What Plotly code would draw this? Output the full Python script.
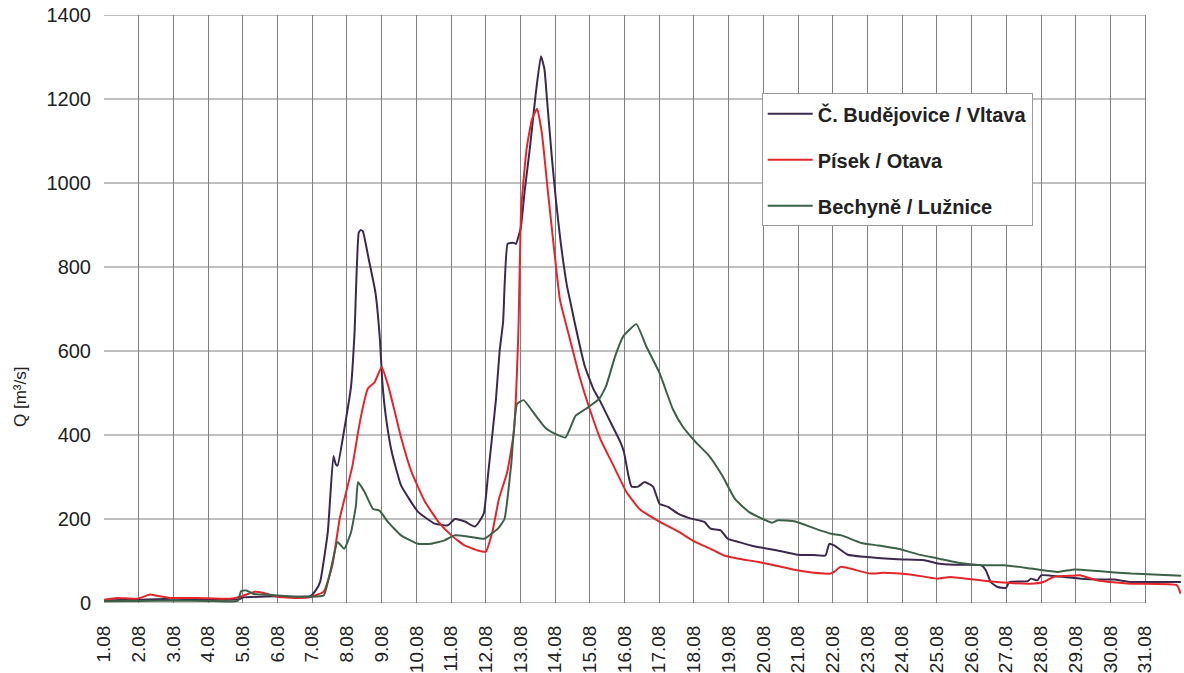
import plotly.graph_objects as go

# x tick labels (day of August)
date_labels = ["1.08", "2.08", "3.08", "4.08", "5.08", "6.08", "7.08", "8.08", "9.08", "10.08",
               "11.08", "12.08", "13.08", "14.08", "15.08", "16.08", "17.08", "18.08", "19.08", "20.08",
               "21.08", "22.08", "23.08", "24.08", "25.08", "26.08", "27.08", "28.08", "29.08", "30.08", "31.08"]
date_pos = list(range(1, 32))
y_ticks = [0, 200, 400, 600, 800, 1000, 1200, 1400]

# Č. Budějovice / Vltava
cb_day = [1.0, 1.5, 2.0, 2.5, 3.0, 3.5, 4.0, 4.5, 4.9, 5.0, 5.5, 6.0, 6.5, 6.94, 7.1, 7.23, 7.45, 7.61, 7.68,
          7.73, 7.91, 8.12, 8.22, 8.34, 8.40, 8.46, 8.63, 8.82, 8.95, 9.02, 9.12, 9.29, 9.56, 10.05, 10.53,
          10.91, 11.11, 11.40, 11.69, 11.86, 11.95, 12.07, 12.29, 12.40, 12.50, 12.63, 12.78, 12.87, 13.01,
          13.12, 13.27, 13.44, 13.59, 13.69, 13.77, 13.90, 14.03, 14.16, 14.34, 14.43, 14.57, 14.85, 15.1,
          15.3, 15.55, 15.88, 15.98, 16.11, 16.20, 16.39, 16.58, 16.82, 17.01, 17.25, 17.54, 17.92, 18.30,
          18.48, 18.77, 18.97, 19.26, 19.64, 19.93, 20.41, 20.98, 21.46, 21.79, 21.90, 22.04, 22.43, 22.91,
          23.87, 24.64, 25.02, 25.50, 26.27, 26.41, 26.55, 26.75, 26.99, 27.09, 27.62, 27.71, 27.90, 28.00,
          28.28, 28.67, 29.15, 29.63, 30.11, 30.59, 31.55, 32.03]
cb_q = [6, 7, 8, 9, 10, 9, 8, 8, 9, 13, 15, 16, 15, 16, 30, 51, 170, 350, 330,
        327, 407, 517, 645, 882, 888, 885, 818, 740, 628, 526, 445, 360, 280, 217, 189,
        185, 200, 194, 182, 200, 215, 308, 481, 600, 669, 855, 858, 855, 894,
        980, 1082, 1212, 1302, 1272, 1194, 1065, 953, 858, 755, 720, 665, 565, 510,
        480, 438, 383, 360, 304, 277, 277, 288, 277, 236, 229, 213, 201, 193,
        177, 173, 153, 146, 137, 132, 125, 115, 114, 113, 141, 137, 115, 110,
        104, 102, 94, 91, 90, 78, 50, 38, 36, 50, 52, 58, 54, 66,
        65, 62, 58, 56, 56, 50, 50, 50]

# Písek / Otava
pi_day = [1.0, 1.37, 1.95, 2.33, 2.53, 2.90, 3.68, 4.63, 4.92, 5.35, 5.61, 5.99, 6.56, 6.94, 7.33, 7.58,
          7.79, 7.98, 8.16, 8.32, 8.47, 8.60, 8.80, 9.00, 9.19, 9.38, 9.57, 9.86, 10.25, 10.63, 11.01,
          11.39, 11.77, 12.00, 12.19, 12.38, 12.62, 12.81, 12.94, 13.02, 13.18, 13.33, 13.48, 13.62, 13.79,
          13.97, 14.14, 14.42, 14.70, 14.99, 15.30, 15.68, 16.05, 16.43, 17.0, 17.55, 18.02, 18.48, 18.87,
          19.25, 19.83, 20.31, 20.98, 21.75, 21.93, 22.03, 22.22, 22.5, 23.08, 23.47, 24.23, 25.0, 25.39,
          26.25, 26.73, 27.69, 28.07, 28.36, 28.94, 29.13, 29.61, 30.58, 31.92, 32.02]
pi_q = [8, 12, 10, 20, 17, 12, 12, 10, 15, 27, 24, 15, 12, 14, 27, 90,
        200, 265, 327, 407, 470, 510, 526, 562, 517, 455, 391, 312, 241, 194, 161,
        137, 125, 122, 169, 248, 312, 407, 645, 937, 1083, 1151, 1177, 1117, 980,
        842, 721, 630, 540, 463, 391, 327, 265, 224, 194, 170, 146, 129, 113,
        106, 98, 90, 78, 70, 70, 74, 86, 82, 70, 72, 68, 58, 62,
        54, 50, 46, 50, 62, 65, 66, 54, 46, 42, 22]

# Bechyně / Lužnice
be_day = [1.0, 2.0, 3.0, 4.0, 4.85, 4.95, 5.1, 5.3, 5.6, 6.0, 6.5, 6.94, 7.33, 7.52, 7.73, 7.92, 8.12,
          8.26, 8.32, 8.51, 8.75, 8.94, 9.18, 9.56, 10.04, 10.42, 10.81, 11.10, 11.58, 11.96, 12.35,
          12.54, 12.73, 12.90, 13.09, 13.44, 13.73, 14.02, 14.30, 14.59, 14.88, 15.27, 15.47, 15.73,
          15.97, 16.34, 16.62, 17.0, 17.39, 17.66, 18.05, 18.43, 18.81, 19.18, 19.58, 19.96, 20.25,
          20.42, 20.92, 21.49, 21.95, 22.25, 22.82, 23.30, 23.88, 24.55, 25.03, 25.61, 26.28, 26.95,
          27.72, 28.49, 28.97, 29.64, 30.60, 32.04]
be_q = [4, 5, 6, 5, 5, 28, 30, 22, 20, 18, 15, 15, 18, 74, 145, 129, 169,
        232, 288, 264, 224, 220, 193, 161, 141, 141, 149, 161, 157, 153, 177,
        200, 327, 474, 483, 446, 416, 402, 394, 446, 462, 486, 517, 588,
        636, 664, 612, 549, 462, 422, 383, 351, 304, 248, 217, 201, 191,
        197, 194, 177, 165, 161, 143, 137, 129, 114, 106, 96, 90, 90,
        82, 74, 80, 76, 70, 65]

series_names = ["Č. Budějovice / Vltava", "Písek / Otava", "Bechyně / Lužnice"]
series_colors = ["#3b2a4c", "#e3262b", "#3d6048"]

FONT = "Liberation Sans, Arial, sans-serif"
GRID = "#808080"

fig = go.Figure()
for i, (xs, ys) in enumerate([(cb_day, cb_q), (pi_day, pi_q), (be_day, be_q)]):
    fig.add_trace(go.Scatter(
        x=xs, y=ys, mode="lines", name=series_names[i], legendgroup=f"g{i}",
        line=dict(color=series_colors[i], width=2, shape="spline", smoothing=0.4),
    ))

# horizontal gridlines only across the dated part of the chart
for v in y_ticks:
    fig.add_shape(type="line", xref="x", yref="y", x0=date_pos[0], x1=date_pos[-1], y0=v, y1=v,
                  line=dict(color=GRID, width=1), layer="below")

fig.update_layout(
    width=1184, height=673,
    margin=dict(l=104, r=0, t=15, b=68),
    paper_bgcolor="white", plot_bgcolor="white",
    font=dict(family=FONT, color="#222"),
    showlegend=True,
    legend=dict(
        x=0.609, y=0.867, xanchor="left", yanchor="top",
        bgcolor="white", bordercolor="#999", borderwidth=1,
        font=dict(family=FONT, size=20, color="#222", weight="bold"),
        tracegroupgap=17, itemwidth=45,
    ),
    xaxis=dict(
        range=[1, 32.12], tickmode="array", tickvals=date_pos, ticktext=date_labels,
        tickangle=-90, showgrid=True, gridcolor=GRID, gridwidth=1, zeroline=False,
        ticks="outside", ticklen=14, tickcolor="rgba(0,0,0,0)",
        tickfont=dict(family=FONT, size=19, color="#222"), showline=False,
    ),
    yaxis=dict(
        range=[0, 1400], tickmode="array", tickvals=y_ticks, showgrid=False, zeroline=False,
        ticks="outside", ticklen=8, tickcolor="rgba(0,0,0,0)",
        tickfont=dict(family=FONT, size=20, color="#222"), showline=False,
    ),
    annotations=[dict(
        text="Q [m³/s]", xref="paper", yref="paper", x=-0.078, y=0.35,
        xanchor="center", yanchor="middle", textangle=-90, showarrow=False,
        font=dict(family=FONT, size=17, color="#222"),
    )],
)

fig.write_html("out.html")
